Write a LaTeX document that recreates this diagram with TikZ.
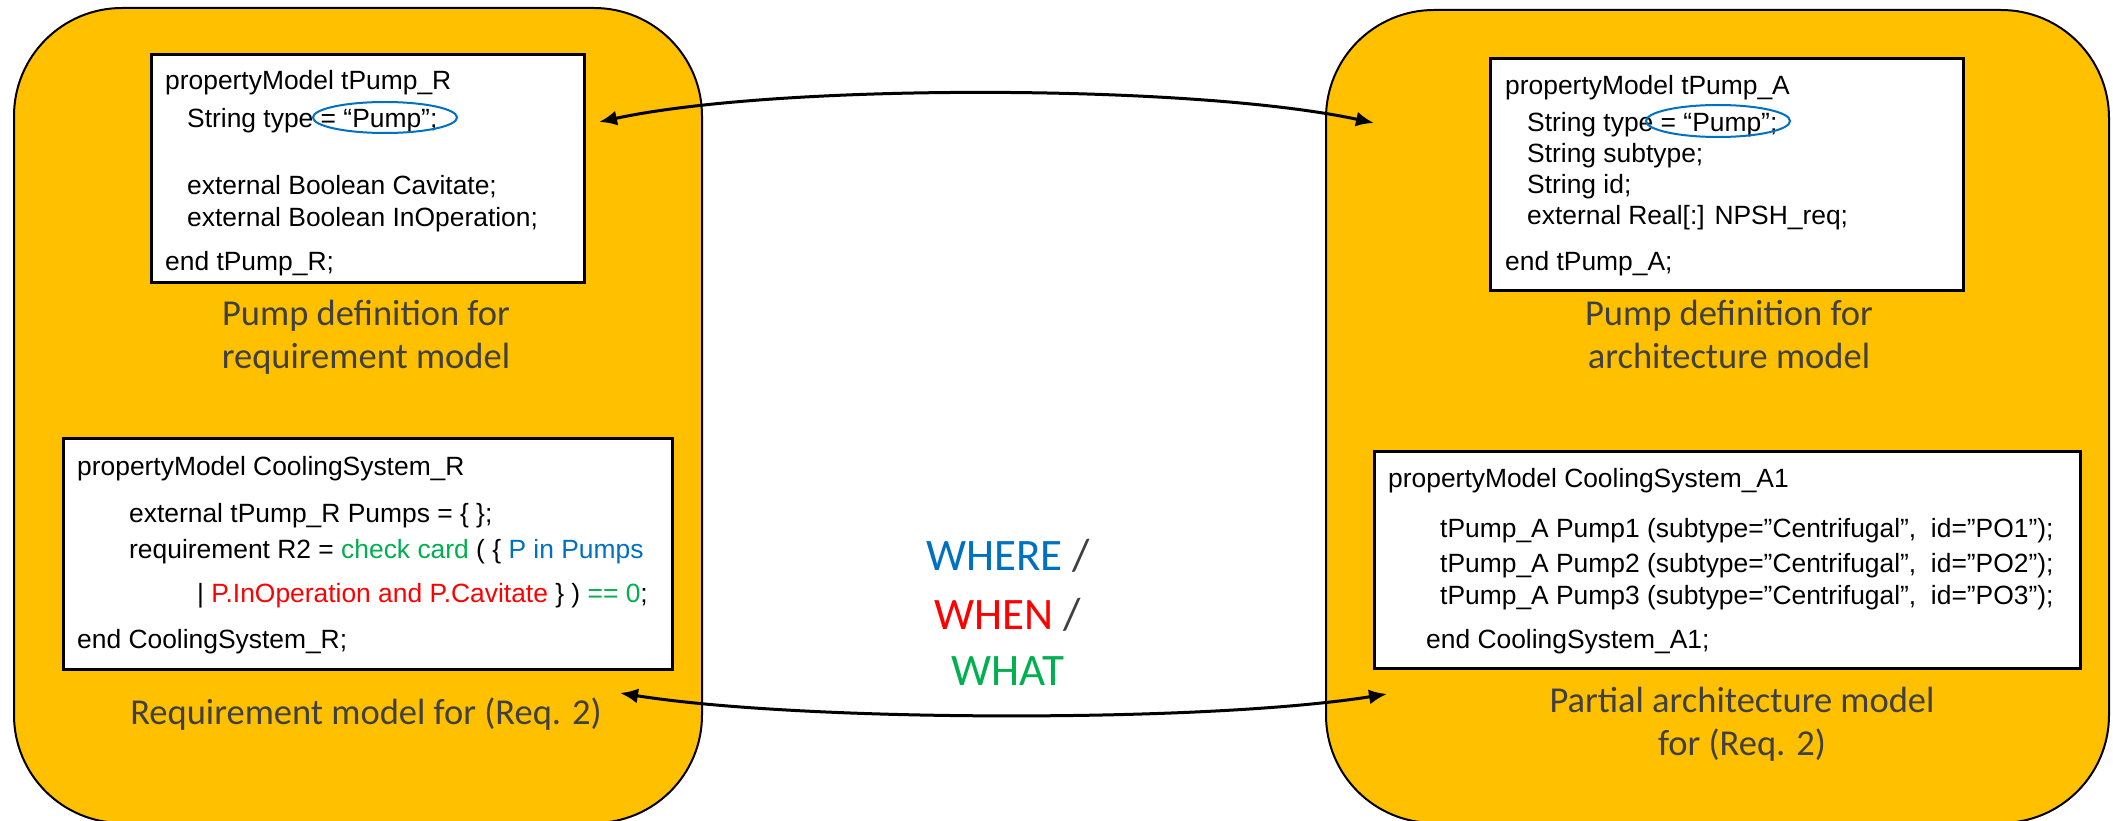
\documentclass[tikz,border=0pt]{standalone}
\usepackage{fontspec}
\usetikzlibrary{arrows.meta}
\newfontfamily\codefont{Liberation Sans}
\newfontfamily\capfont{Carlito}
\definecolor{boxyellow}{HTML}{FFC000}
\definecolor{capgray}{HTML}{404040}
\definecolor{ublue}{HTML}{0070C0}
\definecolor{ugreen}{HTML}{00B050}
\definecolor{ured}{HTML}{FF0000}
\begin{document}
\begin{tikzpicture}[x=1pt,y=-1pt,
  panel/.style={draw=black, line width=2pt, fill=boxyellow, rounded corners=108pt},
  codebox/.style={draw=black, line width=3pt, fill=white, anchor=north west, inner sep=0pt},
  code/.style={anchor=base west, inner sep=0pt, font=\codefont\fontsize{26.4}{30}\selectfont},
  captiontext/.style={anchor=base, inner sep=0pt, text=capgray, font=\capfont\fontsize{36.5}{44}\selectfont},
  bigword/.style={anchor=base, inner sep=0pt, font=\capfont\fontsize{45}{54}\selectfont},
  oval/.style={draw=ublue, line width=2pt},
  link/.style={{Latex[length=18pt,width=15pt]}-{Latex[length=18pt,width=15pt]}, line width=3pt}
]
\useasboundingbox (0,0) rectangle (2113,821);

% panels
\path[panel] (14,8) rectangle (702,823);
\path[panel] (1326,10) rectangle (2109,823);

% code boxes
\node[codebox, minimum width=433pt, minimum height=228pt] (tl) at (150,53) {};
\node[codebox, minimum width=609pt, minimum height=231pt] (bl) at (62,437) {};
\node[codebox, minimum width=473pt, minimum height=232pt] (tr) at (1489,57) {};
\node[codebox, minimum width=706pt, minimum height=217pt] (br) at (1373,450) {};

% top-left code
\node[code] (tl1) at (165,90) {propertyModel tPump\_R};
\node[code] (tl2) at (187,128) {String type = “Pump”;};
\node[code] (tl3) at (187,195) {external Boolean Cavitate;};
\node[code] (tl4) at (187,227) {external Boolean InOperation;};
\node[code] (tl5) at (165,270) {end tPump\_R;};
\draw[oval] (385,117.5) ellipse [x radius=72pt, y radius=15.5pt];

% top-right code
\node[code] (tr1) at (1505,95) {propertyModel tPump\_A};
\node[code] (tr2) at (1527,132) {String type = “Pump”;};
\node[code] (tr3) at (1527,163) {String subtype;};
\node[code] (tr4) at (1527,194) {String id;};
\node[code] (tr5) at (1527,225) {external Real[:] NPSH\_req;};
\node[code] (tr6) at (1505,270) {end tPump\_A;};
\draw[oval] (1718,121) ellipse [x radius=72pt, y radius=16pt];

% bottom-left code
\node[code] (bl1) at (77,475) {propertyModel CoolingSystem\_R};
\node[code] (bl2) at (129,522) {external tPump\_R Pumps = \{ \};};
\node[code] (bl3) at (129,558) {requirement R2 = \textcolor{ugreen}{check card} ( \{ \textcolor{ublue}{P in Pumps}};
\node[code] (bl4) at (197,602) {| \textcolor{ured}{P.InOperation and P.Cavitate} \} ) \textcolor{ugreen}{== 0};};
\node[code] (bl5) at (77,648) {end CoolingSystem\_R;};

% bottom-right code
\node[code] (br1) at (1388,487) {propertyModel CoolingSystem\_A1};
\node[code] (br2) at (1440,537) {tPump\_A Pump1 (subtype=”Centrifugal”,\ \ id=”PO1”);};
\node[code] (br3) at (1440,572) {tPump\_A Pump2 (subtype=”Centrifugal”,\ \ id=”PO2”);};
\node[code] (br4) at (1440,604) {tPump\_A Pump3 (subtype=”Centrifugal”,\ \ id=”PO3”);};
\node[code] (br5) at (1426,648) {end CoolingSystem\_A1;};

% captions
\node[captiontext] (c1a) at (366,325) {Pump definition for};
\node[captiontext] (c1b) at (366,368) {requirement model};
\node[captiontext] (c2) at (366,724) {Requirement model for (Req. 2)};
\node[captiontext] (c3a) at (1729,325) {Pump definition for};
\node[captiontext] (c3b) at (1729,368) {architecture model};
\node[captiontext] (c4a) at (1742,712) {Partial architecture model};
\node[captiontext] (c4b) at (1742,755) {for (Req. 2)};

% center words
\node[bigword] (w1) at (1008,570) {\textcolor{ublue}{WHERE} \textcolor{capgray}{/}};
\node[bigword] (w2) at (1008,629) {\textcolor{ured}{WHEN} \textcolor{capgray}{/}};
\node[bigword] (w3) at (1008,685) {\textcolor{ugreen}{WHAT}};

% links
\coordinate (tA) at (599,122);
\coordinate (tB) at (1374,123);
\coordinate (bA) at (620,693);
\coordinate (bB) at (1387,694);
\draw[link] (tA) .. controls (779,83) and (1194,84) .. (tB);
\draw[link] (bA) .. controls (801,722) and (1206,723) .. (bB);
\end{tikzpicture}
\end{document}
